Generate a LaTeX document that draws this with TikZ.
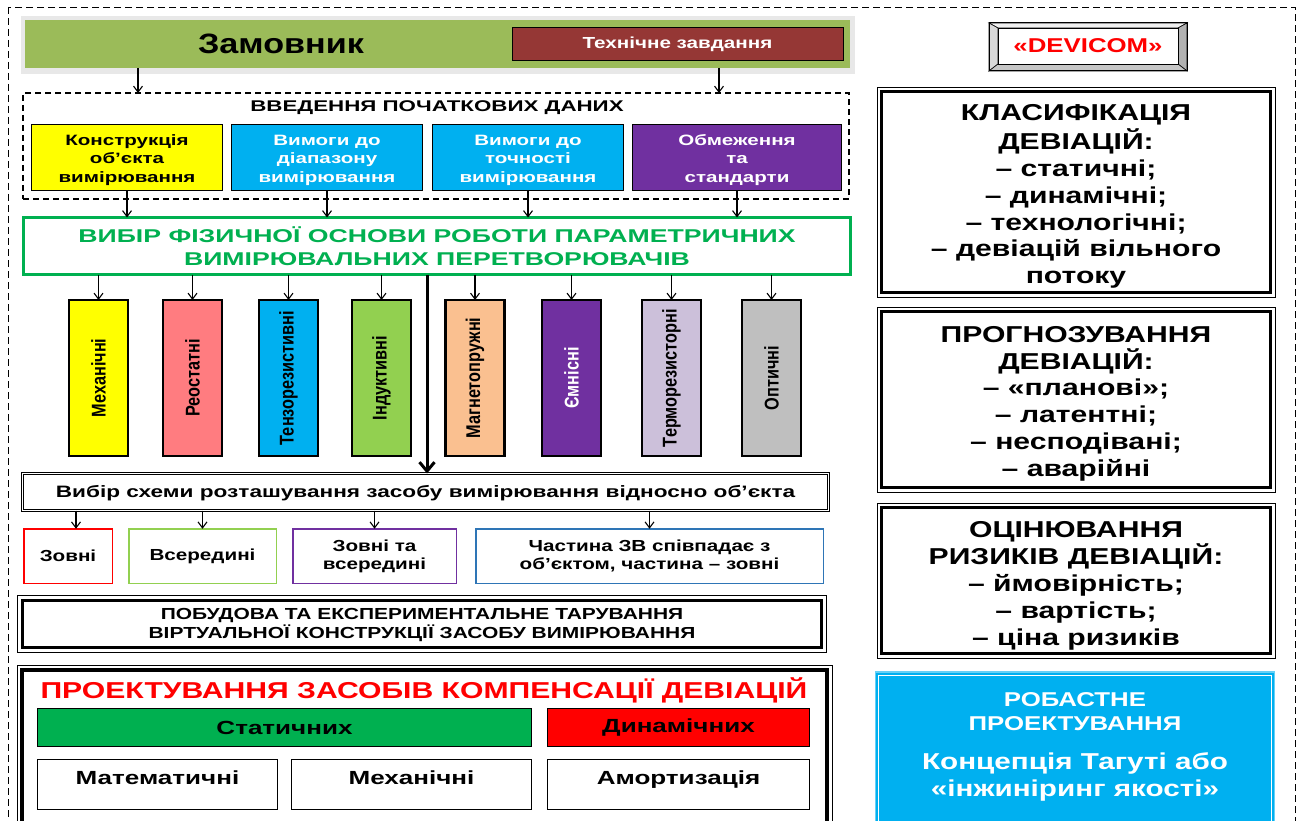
\documentclass[tikz,border=0pt]{standalone}
\usepackage{fontspec}
\setmainfont{Liberation Sans}[FakeStretch=1.22]
\newfontfamily\rf{Liberation Sans}
\newfontfamily\fa[FakeStretch=1.29]{Liberation Sans}
\newfontfamily\fb[FakeStretch=1.31]{Liberation Sans}
\newfontfamily\fc[FakeStretch=1.37]{Liberation Sans}
\newfontfamily\fd[FakeStretch=1.44]{Liberation Sans}
\usetikzlibrary{arrows.meta}
\newcommand\fsz[2]{\fontsize{#1}{#2}\selectfont}
\newcommand\vt[1]{\rotatebox{90}{\scalebox{1}[1.22]{\rf\bfseries\fsz{16.3}{18}#1}}}
\newcommand\up[1]{\rule{0pt}{#1}}
\definecolor{zgreen}{HTML}{9BBB59}
\definecolor{tzred}{HTML}{953735}
\definecolor{yel}{HTML}{FFFF00}
\definecolor{sky}{HTML}{00B0F0}
\definecolor{purp}{HTML}{7030A0}
\definecolor{vgreen}{HTML}{00B050}
\definecolor{salmon}{HTML}{FF7C80}
\definecolor{lgreen}{HTML}{92D050}
\definecolor{peach}{HTML}{FAC090}
\definecolor{lav}{HTML}{CCC0DA}
\definecolor{gry}{HTML}{BFBFBF}
\definecolor{locblue}{HTML}{2E75B6}
\begin{document}
\begin{tikzpicture}[x=1pt,y=-1pt,
  every node/.style={font=\bfseries, align=center, inner sep=0pt, outer sep=0pt},
  arr/.style={-{Straight Barb[length=6pt,width=9pt]}, line width=1.1pt},
  bigarr/.style={-{Straight Barb[length=9pt,width=15pt]}, line width=3pt},
  inbox/.style={draw=black, line width=1.2pt, minimum width=191, minimum height=66, font=\fc\bfseries\fsz{15}{18.5}},
  vbox/.style={draw=black, line width=2.5pt, minimum width=59, minimum height=156},
  locbox/.style={draw, line width=1.5pt, minimum height=54.5, font=\fa\bfseries\fsz{16}{18}},
  thinframe/.style={draw, line width=0.8pt},
  thickframe/.style={draw, line width=3.5pt},
  subbox/.style={draw, line width=1.5pt, font=\fc\bfseries\fsz{19}{22}}
]
\useasboundingbox (0,0) rectangle (1301,821);
\clip (0,0) rectangle (1301,821);
\fill[white] (0,0) rectangle (1301,821);

% outer dashed frame
\draw[dash pattern=on 7pt off 4pt, line width=0.8pt] (8,7) rectangle (1295,850);

% Zamovnyk
\fill[gray!18] (21,16) rectangle (855,74);
\node[fill=zgreen, minimum width=825, minimum height=48] (zam) at (437.5,44) {};
\node[font=\bfseries\fsz{28}{30}] (zamt) at (281,44) {Замовник};
\node[draw=black, line width=1pt, fill=tzred, text=white, minimum width=331, minimum height=33, font=\fa\bfseries\fsz{16}{18}] (tz) at (677.5,44.5) {Технічне завдання};

% input data
\node[draw, dash pattern=on 6pt off 4pt, line width=1.1pt, minimum width=826, minimum height=106] (inp) at (436,146) {};
\node[font=\fd\bfseries\fsz{15.5}{18}] (inpt) at (437,108) {ВВЕДЕННЯ ПОЧАТКОВИХ ДАНИХ};
\coordinate (c1) at (138,0);
\coordinate (c2) at (719,0);
\draw[arr] (zam.south -| c1) -- (inp.north -| c1);
\draw[arr] (zam.south -| c2) -- (inp.north -| c2);

\node[inbox, fill=yel] (b1) at (127,157.5) {\up{16pt}Конструкція\\об’єкта\\вимірювання};
\node[inbox, fill=sky, text=white] (b2) at (327,157.5) {\up{16pt}Вимоги до\\діапазону\\вимірювання};
\node[inbox, fill=sky, text=white] (b3) at (528,157.5) {\up{16pt}Вимоги до\\точності\\вимірювання};
\node[inbox, fill=purp, text=white, minimum width=209] (b4) at (737,157.5) {\up{16pt}Обмеження\\та\\стандарти};

% physical basis
\node[draw=vgreen, line width=3pt, minimum width=827, minimum height=57, text=vgreen, font=\fd\bfseries\fsz{18.5}{23}] (vib) at (437,246) {ВИБІР ФІЗИЧНОЇ ОСНОВИ РОБОТИ ПАРАМЕТРИЧНИХ\\ВИМІРЮВАЛЬНИХ ПЕРЕТВОРЮВАЧІВ};
\foreach \b in {b1,b2,b3,b4} \draw[arr] (\b.south) -- (\b.south |- vib.north);

% vertical boxes
\node[vbox, fill=yel] (v1) at (98.5,378) {\vt{Механічні}};
\node[vbox, fill=salmon] (v2) at (192.5,378) {\vt{Реостатні}};
\node[vbox, fill=sky] (v3) at (288.5,378) {\vt{Тензорезистивні}};
\node[vbox, fill=lgreen] (v4) at (381.5,378) {\vt{Індуктивні}};
\node[vbox, fill=peach] (v5) at (475,378) {\vt{Магнетопружні}};
\node[vbox, fill=purp, text=white] (v6) at (571.5,378) {\vt{Ємнісні}};
\node[vbox, fill=lav] (v7) at (671.5,378) {\vt{Терморезисторні}};
\node[vbox, fill=gry] (v8) at (771.5,378) {\vt{Оптичні}};
\foreach \v in {v1,v2,v3,v4,v5,v6,v7,v8} \draw[arr] (vib.south -| \v.north) -- (\v.north);

% scheme choice
\node[draw, double, double distance=1.5pt, line width=0.9pt, minimum width=806, minimum height=37, font=\fc\bfseries\fsz{16.5}{19}] (sch) at (425.5,492) {\up{14pt}Вибір схеми розташування засобу вимірювання відносно об’єкта};
\coordinate (c3) at (427,0);
\draw[bigarr] (vib.south -| c3) -- (sch.north -| c3);

\node[locbox, draw=red, minimum width=88.5] (l1) at (68,556) {Зовні};
\node[locbox, draw=lgreen, minimum width=147.5] (l2) at (202.5,556) {Всередині};
\node[locbox, draw=purp, minimum width=163.5] (l3) at (374.5,556) {Зовні та\\всередині};
\node[locbox, draw=locblue, minimum width=347.5] (l4) at (649.5,556) {Частина ЗВ співпадає з\\об’єктом, частина – зовні};
\draw[arr] (sch.south -| 76,0) -- (l1.north -| 76,0);
\foreach \l in {l2,l3,l4} \draw[arr] (sch.south -| \l.north) -- (\l.north);

% construction
\node[thinframe, minimum width=809, minimum height=57] (pobo) at (422,624) {};
\node[thickframe, minimum width=799, minimum height=47, font=\fb\bfseries\fsz{16}{19}] (pob) at (pobo.center) {\up{14pt}ПОБУДОВА ТА ЕКСПЕРИМЕНТАЛЬНЕ ТАРУВАННЯ\\ВІРТУАЛЬНОЇ КОНСТРУКЦІЇ ЗАСОБУ ВИМІРЮВАННЯ};

% compensation design
\node[thinframe, minimum width=815, minimum height=185] (projo) at (424.5,757.5) {};
\node[thickframe, minimum width=805, minimum height=175] (proj) at (projo.center) {};
\node[text=red, font=\fb\bfseries\fsz{23}{26}] (projt) at (424,690) {ПРОЕКТУВАННЯ ЗАСОБІВ КОМПЕНСАЦІЇ ДЕВІАЦІЙ};
\node[subbox, fill=vgreen, minimum width=494, minimum height=38] (st) at (284.5,727.5) {Статичних};
\node[subbox, fill=red, minimum width=262, minimum height=38] (dy) at (678.5,727.5) {Динамічних};
\node[subbox, minimum width=240, minimum height=50, text height=14pt, text depth=14pt] (ma) at (157.5,784.5) {Математичні};
\node[subbox, minimum width=240, minimum height=50, text height=14pt, text depth=14pt] (me) at (411.5,784.5) {Механічні};
\node[subbox, minimum width=262, minimum height=50, text height=14pt, text depth=14pt] (am) at (678.5,784.5) {Амортизація};

% DEVICOM
\node[draw, line width=1pt, minimum width=198, minimum height=48] (devo) at (1088,47) {};
\node[minimum width=180, minimum height=36] (devi) at (1088,46) {};
\filldraw[fill=gray!12, line width=0.6pt] (devo.north west) -- (devo.north east) -- (devi.north east) -- (devi.north west) -- cycle;
\filldraw[fill=gray!30, line width=0.6pt] (devo.north west) -- (devi.north west) -- (devi.south west) -- (devo.south west) -- cycle;
\filldraw[fill=gray!60, line width=0.6pt] (devo.north east) -- (devo.south east) -- (devi.south east) -- (devi.north east) -- cycle;
\filldraw[fill=gray!45, line width=0.6pt] (devo.south west) -- (devi.south west) -- (devi.south east) -- (devo.south east) -- cycle;
\node[draw, line width=0.8pt, fill=white, minimum width=180, minimum height=36, text=red, font=\fa\bfseries\fsz{20}{22}] (dev) at (devi.center) {«DEVICOM»};
\draw[line width=1pt] (devo.north west) rectangle (devo.south east);

% right column boxes
\node[thinframe, minimum width=398, minimum height=210] (klo) at (1076,192) {};
\node[thickframe, minimum width=389, minimum height=201, font=\fb\bfseries\fsz{23}{26.7}] (kl) at (klo.center) {\up{24.5pt}КЛАСИФІКАЦІЯ\\[3pt]ДЕВІАЦІЙ:\\– статичні;\\– динамічні;\\– технологічні;\\– девіацій вільного\\потоку};

\node[thinframe, minimum width=398, minimum height=185] (pro) at (1076,399.5) {};
\node[thickframe, minimum width=389, minimum height=176, font=\fb\bfseries\fsz{23}{26.8}] (pr) at (pro.center) {\up{24.5pt}ПРОГНОЗУВАННЯ\\ДЕВІАЦІЙ:\\– «планові»;\\– латентні;\\– несподівані;\\– аварійні};

\node[thinframe, minimum width=398, minimum height=155] (oco) at (1076,580.5) {};
\node[thickframe, minimum width=389, minimum height=146, font=\fb\bfseries\fsz{23}{27}] (oc) at (oco.center) {\up{26pt}ОЦІНЮВАННЯ\\РИЗИКІВ ДЕВІАЦІЙ:\\– ймовірність;\\– вартість;\\– ціна ризиків};

% robust design
\node[draw=sky!60, line width=1.5pt, fill=sky, minimum width=399, minimum height=180] (rob) at (1075,762) {};
\draw[white, line width=0.8pt] ([xshift=3pt,yshift=-3pt]rob.north west) rectangle ([xshift=-3pt,yshift=3pt]rob.south east);
\node[text=white, font=\fa\bfseries\fsz{20}{24}] (rob1) at (1075,712) {РОБАСТНЕ\\ПРОЕКТУВАННЯ};
\node[text=white, font=\fa\bfseries\fsz{23}{27}] (rob2) at (1075,776.5) {Концепція Тагуті або\\«інжиніринг якості»};
\end{tikzpicture}
\end{document}
